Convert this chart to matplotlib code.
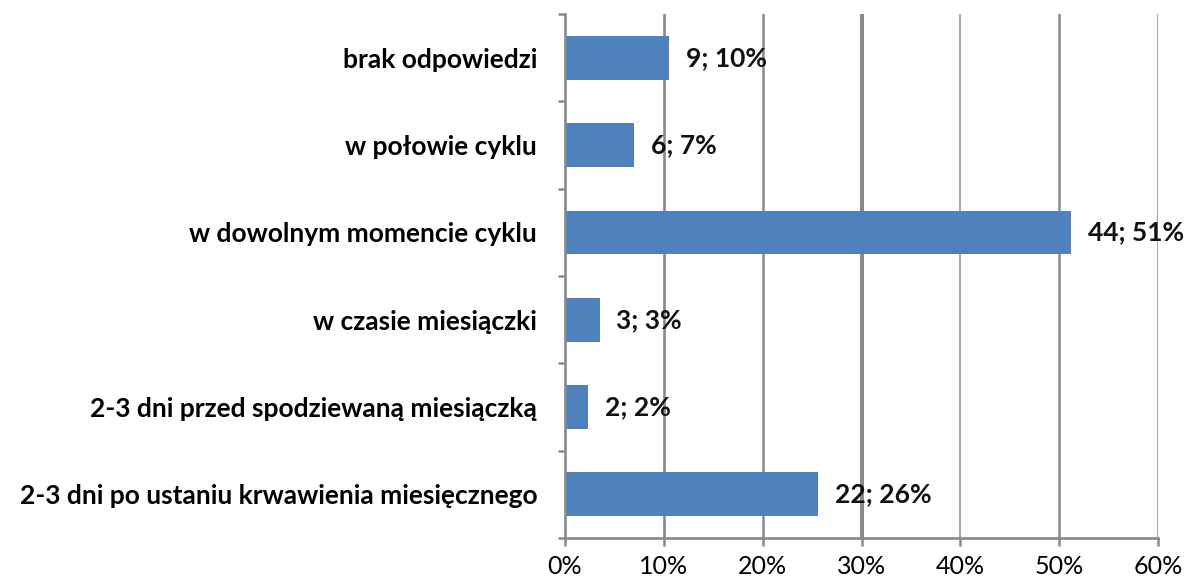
import matplotlib.pyplot as plt
import numpy as np

# data (bottom -> top, as drawn)
categories = [
    "2-3 dni po ustaniu krwawienia miesięcznego",
    "2-3 dni przed spodziewaną miesiączką",
    "w czasie miesiączki",
    "w dowolnym momencie cyklu",
    "w połowie cyklu",
    "brak odpowiedzi",
]
counts = [22, 2, 3, 44, 6, 9]
percents = [25.6, 2.3, 3.5, 51.2, 7.0, 10.5]
pct_labels = [26, 2, 3, 51, 7, 10]
xticks = [0, 10, 20, 30, 40, 50, 60]

bar_color = "#4F81BD"
grid_color = "#8a8a8a"
# gridline widths a bit uneven in the original scan
grid_widths = [1.9, 1.8, 2.9, 1.1, 1.8, 1.8]
fs = 19

fig = plt.figure(figsize=(11.86, 5.81), dpi=100)
ax = fig.add_axes([565 / 1186, 1 - 538 / 581, (1158 - 565) / 1186, (538 - 14) / 581])

y = np.arange(len(categories))
for xv, lw in zip(xticks[1:], grid_widths):
    ax.axvline(xv, color=grid_color, lw=lw, zorder=0)

ax.barh(y, percents, height=0.5, color=bar_color, zorder=2)

for yi, c, p, pl in zip(y, counts, percents, pct_labels):
    ax.text(p + 1.7, yi, f"{c}; {pl}%", va="center", ha="left",
            fontsize=fs, fontweight="bold", family="Lato", color="#111111", zorder=3)

ax.set_xlim(0, 60)
ax.set_ylim(-0.5, len(categories) - 0.5)
ax.set_xticks(xticks)
ax.set_xticklabels([f"{v}%" for v in xticks], family="Lato", fontsize=18)
ax.set_yticks(y)
ax.set_yticklabels(categories, family="Lato", fontweight="bold", fontsize=fs)
ax.set_yticks(np.arange(len(categories) + 1) - 0.5, minor=True)

ax.tick_params(axis="y", which="major", length=0, pad=20)
ax.tick_params(axis="y", which="minor", length=5, width=1.8, color=grid_color)
ax.tick_params(axis="x", which="major", length=6, width=1.8, color=grid_color, pad=6)

for s in ["top", "right"]:
    ax.spines[s].set_visible(False)
for s in ["left", "bottom"]:
    ax.spines[s].set_color(grid_color)
    ax.spines[s].set_linewidth(1.9)

fig.savefig("out.png", dpi=100)
